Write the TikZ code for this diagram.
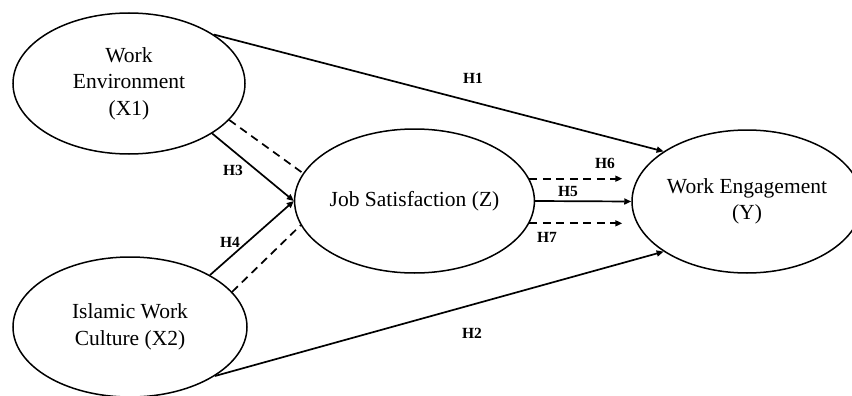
\documentclass[tikz,border=0pt]{standalone}
\usepackage{fontspec}
\setmainfont{Liberation Serif}
\usetikzlibrary{shapes.geometric,arrows.meta}
\tikzset{
  construct/.style={ellipse,draw,line width=1.5pt,inner sep=0pt,align=center,
    font=\fontsize{21.5}{26.5}\selectfont},
  path/.style={line width=1.7pt,-{Triangle[length=7pt,width=6pt]}},
  dpath/.style={line width=1.7pt,dash pattern=on 8pt off 5.5pt},
  dpatharrow/.style={dpath,-{Triangle[length=7pt,width=6pt]}},
  hlabel/.style={font=\fontsize{15.5}{17}\selectfont\bfseries,inner sep=0pt}
}
\begin{document}
\begin{tikzpicture}[x=1pt,y=-1pt]
\useasboundingbox (0,0) rectangle (852,396);
\clip (0,0) rectangle (852,396);
\node[construct,minimum width=232pt,minimum height=141pt] (x1) at (129,83.5) {Work\\Environment\\(X1)};
\node[construct,minimum width=234pt,minimum height=140pt] (x2) at (130,327) {Islamic Work\\Culture (X2)};
\node[construct,minimum width=231pt,minimum height=144pt] (z) at (414.5,201) {Job Satisfaction (Z)};
\node[construct,minimum width=230pt,minimum height=143pt] (y) at (747,201.5) {Work Engagement\\(Y)};
% direct effects
\draw[path] (x1.30) -- (y.149.5);
\draw[path] (x2.-30) -- (y.211);
% X -> Z
\draw[path] (x1.-31.4) -- (z.180);
\draw[dpath] (x1.-20.4) -- (z.166);
\draw[path] (x2.33) -- (z.180);
\draw[dpath] (x2.19.3) -- (z.192);
% Z -> Y
\draw[path] (z.east) -- (y.west);
\draw[dpatharrow,shorten >=9pt] (z.11.9) -- (z.11.9 -| y.west);
\draw[dpatharrow,shorten >=9pt] (z.-11.9) -- (z.-11.9 -| y.west);
% labels
\node[hlabel] (h1) at (473,78) {H1};
\node[hlabel] (h2) at (472,333) {H2};
\node[hlabel] (h3) at (233,170) {H3};
\node[hlabel] (h4) at (230,242) {H4};
\node[hlabel] (h5) at (568,192) {H5};
\node[hlabel] (h6) at (605,163) {H6};
\node[hlabel] (h7) at (547,237) {H7};
\end{tikzpicture}
\end{document}
